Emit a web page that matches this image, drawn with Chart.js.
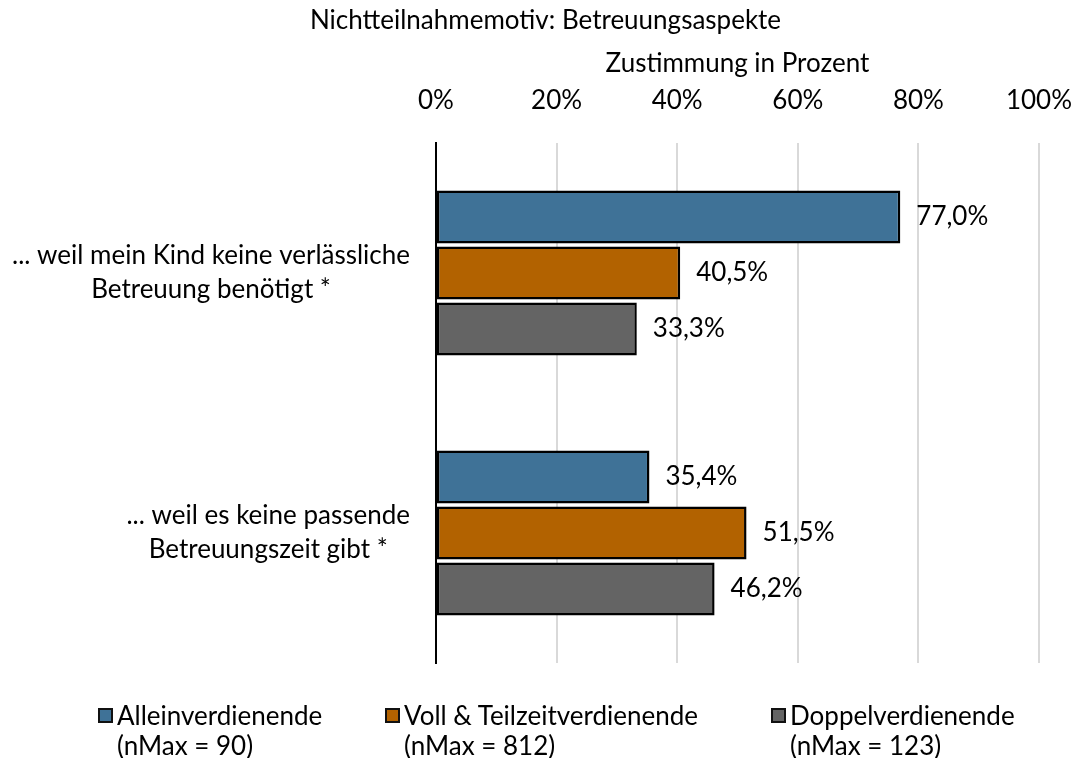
<!DOCTYPE html>
<html lang="de">
<head>
<meta charset="UTF-8">
<title>Nichtteilnahmemotiv: Betreuungsaspekte</title>
<script src="https://cdn.jsdelivr.net/npm/chart.js"></script>
<style>
  body { margin: 0; background: #fff; overflow: hidden; }
  #wrap { position: relative; width: 1073px; height: 758px; }
  .leg { position: absolute; top: 700px; font-family: Lato, sans-serif; font-size: 26px; line-height: 30px; color: #000; }
  .leg .box { position: absolute; left: 0; top: 8px; width: 11px; height: 11px; border: 2px solid #111; }
  .leg .txt { margin-left: 19px; white-space: nowrap; }
</style>
</head>
<body>
<div id="wrap">
  <canvas id="chart"></canvas>
</div>
<script>
  // daten
  const categories = [
    ['... weil mein Kind keine verlässliche', 'Betreuung benötigt *'],
    ['... weil es keine passende', 'Betreuungszeit gibt *']
  ];
  const seriesNames = ['Alleinverdienende', 'Voll & Teilzeitverdienende', 'Doppelverdienende'];
  const seriesN = ['(nMax = 90)', '(nMax = 812)', '(nMax = 123)'];
  const allein = [77.0, 35.4];
  const vollTeilzeit = [40.5, 51.5];
  const doppel = [33.3, 46.2];
  const xTicks = [0, 20, 40, 60, 80, 100];

  const colors = ['#3f7297', '#b26200', '#646464'];
  const FONT = 'Lato, sans-serif';
  const FS = 26;

  // legende als html
  const legendLeft = [98, 385, 771];
  seriesNames.forEach((name, i) => {
    const d = document.createElement('div');
    d.className = 'leg';
    d.style.left = legendLeft[i] + 'px';
    d.innerHTML = '<span class="box" style="background:' + colors[i] + '"></span>' +
      '<div class="txt">' + name.replace('&', '&amp;') + '<br>' + seriesN[i] + '</div>';
    document.getElementById('wrap').appendChild(d);
  });

  // y-beschriftungen selbst zeichnen (zeilen zentriert, block rechtsbündig)
  const catLabels = {
    id: 'catLabels',
    afterDraw(chart) {
      const ctx = chart.ctx;
      const y = chart.scales.y;
      ctx.save();
      ctx.font = FS + 'px ' + FONT;
      ctx.fillStyle = '#000';
      ctx.textAlign = 'center';
      ctx.textBaseline = 'middle';
      categories.forEach((lines, i) => {
        const cy = y.getPixelForValue(i);
        const w = Math.max(...lines.map(l => ctx.measureText(l).width));
        const cx = chart.chartArea.left - 26 - w / 2;
        lines.forEach((l, j) => {
          ctx.fillText(l, cx, cy + (j - (lines.length - 1) / 2) * 34);
        });
      });
      ctx.restore();
    }
  };

  const valueLabels = {
    id: 'valueLabels',
    afterDatasetsDraw(chart) {
      const ctx = chart.ctx;
      ctx.save();
      ctx.font = FS + 'px ' + FONT;
      ctx.fillStyle = '#000';
      ctx.textAlign = 'left';
      ctx.textBaseline = 'middle';
      chart.data.datasets.forEach((ds, di) => {
        chart.getDatasetMeta(di).data.forEach((bar, i) => {
          const txt = ds.data[i].toFixed(1).replace('.', ',') + '%';
          ctx.fillText(txt, bar.x + 16, bar.y);
        });
      });
      ctx.restore();
    }
  };

  const ctx = document.getElementById('chart').getContext('2d');
  const chart = new Chart(ctx, {
    type: 'bar',
    data: {
      labels: categories,
      datasets: [allein, vollTeilzeit, doppel].map((vals, i) => ({
        label: seriesNames[i],
        data: vals,
        backgroundColor: colors[i],
        borderColor: '#000',
        borderWidth: 2.5,
        borderSkipped: false,
        categoryPercentage: 0.646,
        barPercentage: 0.95
      }))
    },
    options: {
      indexAxis: 'y',
      responsive: true,
      maintainAspectRatio: false,
      animation: false,
      layout: { padding: { left: 18, right: 0, top: 0, bottom: 95 } },
      plugins: {
        legend: { display: false },
        tooltip: { enabled: false },
        title: {
          display: true,
          text: 'Nichtteilnahmemotiv: Betreuungsaspekte',
          color: '#000',
          font: { family: FONT, size: FS, weight: 'normal' },
          padding: { top: 5, bottom: 6 }
        }
      },
      scales: {
        x: {
          type: 'linear',
          position: 'top',
          min: xTicks[0],
          max: xTicks[xTicks.length - 1],
          afterBuildTicks: s => { s.ticks = xTicks.map(v => ({ value: v })); },
          ticks: {
            color: '#000',
            font: { family: FONT, size: FS },
            padding: 27,
            callback: v => v + '%'
          },
          grid: { color: '#d9d9d9', lineWidth: 2, drawTicks: false },
          border: { display: false },
          title: {
            display: true,
            text: 'Zustimmung in Prozent',
            color: '#000',
            font: { family: FONT, size: FS },
            padding: { top: 6, bottom: 0 }
          },
          afterFit: s => { s.height = 100.8; s.paddingLeft = 0; s.paddingRight = 0; }
        },
        y: {
          type: 'category',
          position: 'left',
          ticks: { display: false },
          grid: { display: false },
          border: { display: true, color: '#000', width: 2 },
          afterFit: s => { s.width = 418; }
        },
        yRight: {
          type: 'linear',
          position: 'right',
          display: true,
          ticks: { display: false },
          grid: { display: false },
          border: { display: false },
          afterFit: s => { s.width = 34; }
        }
      }
    },
    plugins: [catLabels, valueLabels]
  });
</script>
</body>
</html>
